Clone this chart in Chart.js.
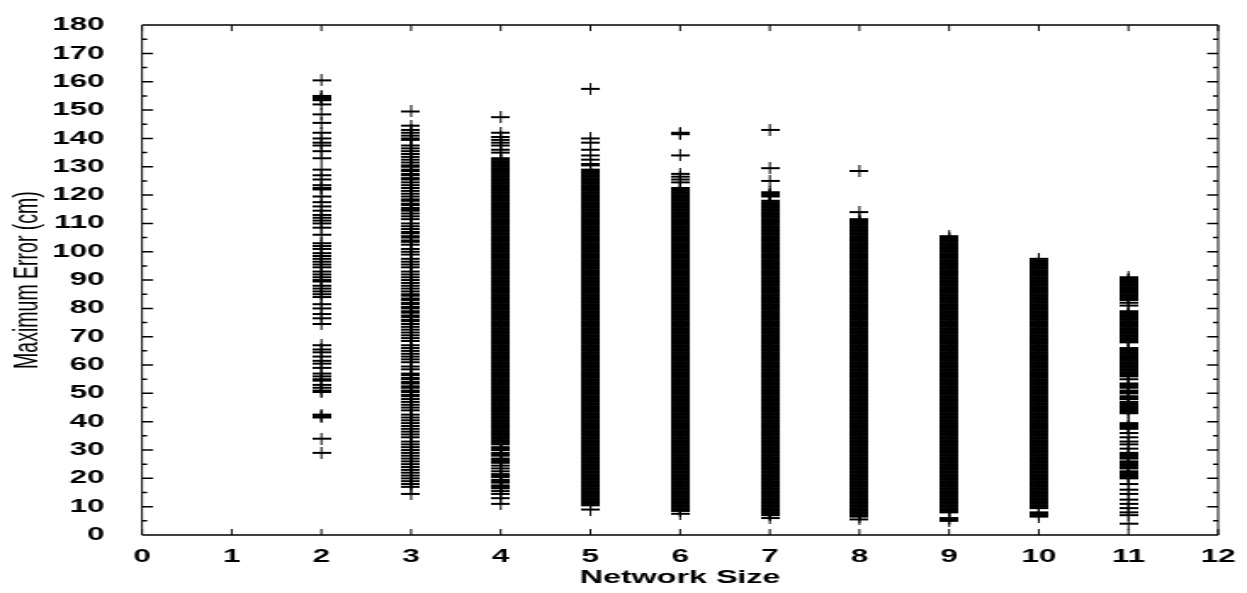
<!DOCTYPE html>
<html>
<head>
<meta charset="utf-8">
<title>Maximum Error vs Network Size</title>
<script src="https://cdn.jsdelivr.net/npm/chart.js@4/dist/chart.umd.min.js"></script>
<style>
  html, body { margin: 0; padding: 0; background: #fff; }
  #graph { display: block; }
</style>
</head>
<body>
<!-- drawn at a narrow width and stretched sideways, like the printed plot -->
<canvas id="graph" width="734" height="593" style="width:1247px;height:593px"></canvas>
<script>
const networkSizes = [2, 3, 4, 5, 6, 7, 8, 9, 10, 11];

const xTickValues = [0, 1, 2, 3, 4, 5, 6, 7, 8, 9, 10, 11, 12];
const yMajorTicks = [0, 10, 20, 30, 40, 50, 60, 70, 80, 90, 100, 110, 120, 130, 140, 150, 160, 170, 180];
const yMinorTicks = [5, 15, 25, 35, 45, 55, 65, 75, 85, 95, 105, 115, 125, 135, 145, 155, 165, 175];

// maximum error (cm) of every run, one list per network size
const size2 = [160.5, 155, 154.5, 154, 153.5, 152, 148.5, 145.5, 142, 140, 138.5, 137.5, 135.5, 133,
  129, 127, 125.5, 123.5, 122.5, 122, 119.5, 117.5, 116, 114.5, 113, 112, 111, 110, 108.5, 106,
  103, 102, 101, 99.5, 98.5, 97.5, 96.5, 95.5, 94.5, 93, 92, 91, 90, 89.5, 88, 87, 86, 85, 84,
  81.5, 80, 78, 76.5, 74.5, 67, 65.5, 64.5, 63, 61.5, 60.5, 59, 57, 56, 55, 54.5, 53, 52, 51, 50.5,
  42.5, 42, 41.5, 34, 29];

const size3 = [149.5,
  144.5, 143, 142, 141, 140, 139.5, 137.5, 136.5, 135.5, 134.5, 133.5, 132.5, 131.5,
  130.5, 130, 129, 128.5, 127.5, 127, 126, 125.5, 124.5, 123.5, 122.5, 121.5, 120.5, 119.5,
  118.5, 118, 117, 116.5, 115.5, 115, 114.5, 113.5, 112.5, 111.5, 110, 109, 108,
  107, 106.5, 105.5, 105, 104, 103.5, 102.5, 101, 100, 99, 97.5, 96.5, 95.5, 94.5,
  93, 92, 91, 90, 89, 88, 87, 86, 85, 84.5, 83.5, 83, 82, 81.5, 80.5, 80, 79, 78.5, 77.5, 77, 76, 75.5, 74.5,
  73.5, 72.5, 71.5, 70.5, 69.5, 68.5, 67, 66, 65, 64, 63, 62, 61, 59.5, 58.5,
  57, 56.5, 55.5, 55, 54, 53.5, 52.5, 52, 51, 50.5, 49.5, 49,
  48, 47, 46, 45, 44, 42.5, 41.5, 40.5, 39.5, 38.5,
  37.5, 36.5, 35.5, 34.5, 33, 32, 31, 30, 29, 28, 27,
  26, 25, 24, 23, 22, 21, 20, 19, 18, 17, 14.5];

const size4 = [147.5, 142, 140.5, 139.5, 138.5, 137.5, 136, 135, 133,
  132.5, 132, 131.5, 131, 130.5, 130,
  129.5, 129, 128.5, 128, 127.5, 127, 126.5, 126, 125.5, 125, 124.5, 124, 123.5, 123, 122.5, 122, 121.5, 121, 120.5, 120,
  119.5, 119, 118.5, 118, 117.5, 117, 116.5, 116, 115.5, 115, 114.5, 114, 113.5, 113, 112.5, 112, 111.5, 111, 110.5, 110,
  109.5, 109, 108.5, 108, 107.5, 107, 106.5, 106, 105.5, 105, 104.5, 104, 103.5, 103, 102.5, 102, 101.5, 101, 100.5, 100,
  99.5, 99, 98.5, 98, 97.5, 97, 96.5, 96, 95.5, 95, 94.5, 94, 93.5, 93, 92.5, 92, 91.5, 91, 90.5, 90,
  89.5, 89, 88.5, 88, 87.5, 87, 86.5, 86, 85.5, 85, 84.5, 84, 83.5, 83, 82.5, 82, 81.5, 81, 80.5, 80,
  79.5, 79, 78.5, 78, 77.5, 77, 76.5, 76, 75.5, 75, 74.5, 74, 73.5, 73, 72.5, 72, 71.5, 71, 70.5, 70,
  69.5, 69, 68.5, 68, 67.5, 67, 66.5, 66, 65.5, 65, 64.5, 64, 63.5, 63, 62.5, 62, 61.5, 61, 60.5, 60,
  59.5, 59, 58.5, 58, 57.5, 57, 56.5, 56, 55.5, 55, 54.5, 54, 53.5, 53, 52.5, 52, 51.5, 51, 50.5, 50,
  49.5, 49, 48.5, 48, 47.5, 47, 46.5, 46, 45.5, 45, 44.5, 44, 43.5, 43, 42.5, 42, 41.5, 41, 40.5, 40,
  39.5, 39, 38.5, 38, 37.5, 37, 36.5, 36, 35.5, 35, 34.5, 34, 33.5, 33,
  32.5, 32, 31, 30.5, 30, 29, 28.5, 28, 27, 26.5, 26, 25.5, 24.5, 23.5, 22.5, 21.5, 21, 20.5,
  19.5, 19, 18.5, 17.5, 17, 16.5, 15.5, 14.5, 13, 11];

const size5 = [157.5, 140, 138.5, 136, 134, 132.5, 131, 130.5,
  129, 128.5, 128, 127.5, 127, 126.5, 126, 125.5, 125, 124.5, 124, 123.5, 123, 122.5, 122, 121.5, 121, 120.5, 120,
  119.5, 119, 118.5, 118, 117.5, 117, 116.5, 116, 115.5, 115, 114.5, 114, 113.5, 113, 112.5, 112, 111.5, 111, 110.5, 110,
  109.5, 109, 108.5, 108, 107.5, 107, 106.5, 106, 105.5, 105, 104.5, 104, 103.5, 103, 102.5, 102, 101.5, 101, 100.5, 100,
  99.5, 99, 98.5, 98, 97.5, 97, 96.5, 96, 95.5, 95, 94.5, 94, 93.5, 93, 92.5, 92, 91.5, 91, 90.5, 90,
  89.5, 89, 88.5, 88, 87.5, 87, 86.5, 86, 85.5, 85, 84.5, 84, 83.5, 83, 82.5, 82, 81.5, 81, 80.5, 80,
  79.5, 79, 78.5, 78, 77.5, 77, 76.5, 76, 75.5, 75, 74.5, 74, 73.5, 73, 72.5, 72, 71.5, 71, 70.5, 70,
  69.5, 69, 68.5, 68, 67.5, 67, 66.5, 66, 65.5, 65, 64.5, 64, 63.5, 63, 62.5, 62, 61.5, 61, 60.5, 60,
  59.5, 59, 58.5, 58, 57.5, 57, 56.5, 56, 55.5, 55, 54.5, 54, 53.5, 53, 52.5, 52, 51.5, 51, 50.5, 50,
  49.5, 49, 48.5, 48, 47.5, 47, 46.5, 46, 45.5, 45, 44.5, 44, 43.5, 43, 42.5, 42, 41.5, 41, 40.5, 40,
  39.5, 39, 38.5, 38, 37.5, 37, 36.5, 36, 35.5, 35, 34.5, 34, 33.5, 33, 32.5, 32, 31.5, 31, 30.5, 30,
  29.5, 29, 28.5, 28, 27.5, 27, 26.5, 26, 25.5, 25, 24.5, 24, 23.5, 23, 22.5, 22, 21.5, 21, 20.5, 20,
  19.5, 19, 18.5, 18, 17.5, 17, 16.5, 16, 15.5, 15, 14.5, 14, 13.5, 13, 12.5, 12, 11.5, 11, 10.5, 9];

const size6 = [142, 141.5, 134, 127.5, 126.5, 125.5, 124.5,
  122.5, 122, 121.5, 121, 120.5, 120,
  119.5, 119, 118.5, 118, 117.5, 117, 116.5, 116, 115.5, 115, 114.5, 114, 113.5, 113, 112.5, 112, 111.5, 111, 110.5, 110,
  109.5, 109, 108.5, 108, 107.5, 107, 106.5, 106, 105.5, 105, 104.5, 104, 103.5, 103, 102.5, 102, 101.5, 101, 100.5, 100,
  99.5, 99, 98.5, 98, 97.5, 97, 96.5, 96, 95.5, 95, 94.5, 94, 93.5, 93, 92.5, 92, 91.5, 91, 90.5, 90,
  89.5, 89, 88.5, 88, 87.5, 87, 86.5, 86, 85.5, 85, 84.5, 84, 83.5, 83, 82.5, 82, 81.5, 81, 80.5, 80,
  79.5, 79, 78.5, 78, 77.5, 77, 76.5, 76, 75.5, 75, 74.5, 74, 73.5, 73, 72.5, 72, 71.5, 71, 70.5, 70,
  69.5, 69, 68.5, 68, 67.5, 67, 66.5, 66, 65.5, 65, 64.5, 64, 63.5, 63, 62.5, 62, 61.5, 61, 60.5, 60,
  59.5, 59, 58.5, 58, 57.5, 57, 56.5, 56, 55.5, 55, 54.5, 54, 53.5, 53, 52.5, 52, 51.5, 51, 50.5, 50,
  49.5, 49, 48.5, 48, 47.5, 47, 46.5, 46, 45.5, 45, 44.5, 44, 43.5, 43, 42.5, 42, 41.5, 41, 40.5, 40,
  39.5, 39, 38.5, 38, 37.5, 37, 36.5, 36, 35.5, 35, 34.5, 34, 33.5, 33, 32.5, 32, 31.5, 31, 30.5, 30,
  29.5, 29, 28.5, 28, 27.5, 27, 26.5, 26, 25.5, 25, 24.5, 24, 23.5, 23, 22.5, 22, 21.5, 21, 20.5, 20,
  19.5, 19, 18.5, 18, 17.5, 17, 16.5, 16, 15.5, 15, 14.5, 14, 13.5, 13, 12.5, 12, 11.5, 11, 10.5, 10,
  9.5, 9, 8.5, 7.5];

const size7 = [143, 129.5, 125, 121, 120.5, 120, 119.5,
  118, 117.5, 117, 116.5, 116, 115.5, 115, 114.5, 114, 113.5, 113, 112.5, 112, 111.5, 111, 110.5, 110,
  109.5, 109, 108.5, 108, 107.5, 107, 106.5, 106, 105.5, 105, 104.5, 104, 103.5, 103, 102.5, 102, 101.5, 101, 100.5, 100,
  99.5, 99, 98.5, 98, 97.5, 97, 96.5, 96, 95.5, 95, 94.5, 94, 93.5, 93, 92.5, 92, 91.5, 91, 90.5, 90,
  89.5, 89, 88.5, 88, 87.5, 87, 86.5, 86, 85.5, 85, 84.5, 84, 83.5, 83, 82.5, 82, 81.5, 81, 80.5, 80,
  79.5, 79, 78.5, 78, 77.5, 77, 76.5, 76, 75.5, 75, 74.5, 74, 73.5, 73, 72.5, 72, 71.5, 71, 70.5, 70,
  69.5, 69, 68.5, 68, 67.5, 67, 66.5, 66, 65.5, 65, 64.5, 64, 63.5, 63, 62.5, 62, 61.5, 61, 60.5, 60,
  59.5, 59, 58.5, 58, 57.5, 57, 56.5, 56, 55.5, 55, 54.5, 54, 53.5, 53, 52.5, 52, 51.5, 51, 50.5, 50,
  49.5, 49, 48.5, 48, 47.5, 47, 46.5, 46, 45.5, 45, 44.5, 44, 43.5, 43, 42.5, 42, 41.5, 41, 40.5, 40,
  39.5, 39, 38.5, 38, 37.5, 37, 36.5, 36, 35.5, 35, 34.5, 34, 33.5, 33, 32.5, 32, 31.5, 31, 30.5, 30,
  29.5, 29, 28.5, 28, 27.5, 27, 26.5, 26, 25.5, 25, 24.5, 24, 23.5, 23, 22.5, 22, 21.5, 21, 20.5, 20,
  19.5, 19, 18.5, 18, 17.5, 17, 16.5, 16, 15.5, 15, 14.5, 14, 13.5, 13, 12.5, 12, 11.5, 11, 10.5, 10,
  9.5, 9, 8.5, 8, 7.5, 7, 6];

const size8 = [128.5, 114,
  111.5, 111, 110.5, 110,
  109.5, 109, 108.5, 108, 107.5, 107, 106.5, 106, 105.5, 105, 104.5, 104, 103.5, 103, 102.5, 102, 101.5, 101, 100.5, 100,
  99.5, 99, 98.5, 98, 97.5, 97, 96.5, 96, 95.5, 95, 94.5, 94, 93.5, 93, 92.5, 92, 91.5, 91, 90.5, 90,
  89.5, 89, 88.5, 88, 87.5, 87, 86.5, 86, 85.5, 85, 84.5, 84, 83.5, 83, 82.5, 82, 81.5, 81, 80.5, 80,
  79.5, 79, 78.5, 78, 77.5, 77, 76.5, 76, 75.5, 75, 74.5, 74, 73.5, 73, 72.5, 72, 71.5, 71, 70.5, 70,
  69.5, 69, 68.5, 68, 67.5, 67, 66.5, 66, 65.5, 65, 64.5, 64, 63.5, 63, 62.5, 62, 61.5, 61, 60.5, 60,
  59.5, 59, 58.5, 58, 57.5, 57, 56.5, 56, 55.5, 55, 54.5, 54, 53.5, 53, 52.5, 52, 51.5, 51, 50.5, 50,
  49.5, 49, 48.5, 48, 47.5, 47, 46.5, 46, 45.5, 45, 44.5, 44, 43.5, 43, 42.5, 42, 41.5, 41, 40.5, 40,
  39.5, 39, 38.5, 38, 37.5, 37, 36.5, 36, 35.5, 35, 34.5, 34, 33.5, 33, 32.5, 32, 31.5, 31, 30.5, 30,
  29.5, 29, 28.5, 28, 27.5, 27, 26.5, 26, 25.5, 25, 24.5, 24, 23.5, 23, 22.5, 22, 21.5, 21, 20.5, 20,
  19.5, 19, 18.5, 18, 17.5, 17, 16.5, 16, 15.5, 15, 14.5, 14, 13.5, 13, 12.5, 12, 11.5, 11, 10.5, 10,
  9.5, 9, 8.5, 8, 7.5, 7, 6.5, 5.5];

const size9 = [105.5, 105, 104.5, 104, 103.5, 103, 102.5, 102, 101.5, 101, 100.5, 100,
  99.5, 99, 98.5, 98, 97.5, 97, 96.5, 96, 95.5, 95, 94.5, 94, 93.5, 93, 92.5, 92, 91.5, 91, 90.5, 90,
  89.5, 89, 88.5, 88, 87.5, 87, 86.5, 86, 85.5, 85, 84.5, 84, 83.5, 83, 82.5, 82, 81.5, 81, 80.5, 80,
  79.5, 79, 78.5, 78, 77.5, 77, 76.5, 76, 75.5, 75, 74.5, 74, 73.5, 73, 72.5, 72, 71.5, 71, 70.5, 70,
  69.5, 69, 68.5, 68, 67.5, 67, 66.5, 66, 65.5, 65, 64.5, 64, 63.5, 63, 62.5, 62, 61.5, 61, 60.5, 60,
  59.5, 59, 58.5, 58, 57.5, 57, 56.5, 56, 55.5, 55, 54.5, 54, 53.5, 53, 52.5, 52, 51.5, 51, 50.5, 50,
  49.5, 49, 48.5, 48, 47.5, 47, 46.5, 46, 45.5, 45, 44.5, 44, 43.5, 43, 42.5, 42, 41.5, 41, 40.5, 40,
  39.5, 39, 38.5, 38, 37.5, 37, 36.5, 36, 35.5, 35, 34.5, 34, 33.5, 33, 32.5, 32, 31.5, 31, 30.5, 30,
  29.5, 29, 28.5, 28, 27.5, 27, 26.5, 26, 25.5, 25, 24.5, 24, 23.5, 23, 22.5, 22, 21.5, 21, 20.5, 20,
  19.5, 19, 18.5, 18, 17.5, 17, 16.5, 16, 15.5, 15, 14.5, 14, 13.5, 13, 12.5, 12, 11.5, 11, 10.5, 10,
  9.5, 9, 8.5, 8, 6, 5.5, 5];

const size10 = [97.5, 97, 96.5, 96, 95.5, 95, 94.5, 94, 93.5, 93, 92.5, 92, 91.5, 91, 90.5, 90,
  89.5, 89, 88.5, 88, 87.5, 87, 86.5, 86, 85.5, 85, 84.5, 84, 83.5, 83, 82.5, 82, 81.5, 81, 80.5, 80,
  79.5, 79, 78.5, 78, 77.5, 77, 76.5, 76, 75.5, 75, 74.5, 74, 73.5, 73, 72.5, 72, 71.5, 71, 70.5, 70,
  69.5, 69, 68.5, 68, 67.5, 67, 66.5, 66, 65.5, 65, 64.5, 64, 63.5, 63, 62.5, 62, 61.5, 61, 60.5, 60,
  59.5, 59, 58.5, 58, 57.5, 57, 56.5, 56, 55.5, 55, 54.5, 54, 53.5, 53, 52.5, 52, 51.5, 51, 50.5, 50,
  49.5, 49, 48.5, 48, 47.5, 47, 46.5, 46, 45.5, 45, 44.5, 44, 43.5, 43, 42.5, 42, 41.5, 41, 40.5, 40,
  39.5, 39, 38.5, 38, 37.5, 37, 36.5, 36, 35.5, 35, 34.5, 34, 33.5, 33, 32.5, 32, 31.5, 31, 30.5, 30,
  29.5, 29, 28.5, 28, 27.5, 27, 26.5, 26, 25.5, 25, 24.5, 24, 23.5, 23, 22.5, 22, 21.5, 21, 20.5, 20,
  19.5, 19, 18.5, 18, 17.5, 17, 16.5, 16, 15.5, 15, 14.5, 14, 13.5, 13, 12.5, 12, 11.5, 11, 10.5, 10,
  9.5, 8, 7.5, 7, 6.5];

const size11 = [91, 90.5, 90, 89.5, 89, 88.5, 88, 87.5, 87, 86.5, 86, 85.5, 85, 84.5, 84, 83.5, 83,
  82, 81,
  79, 78.5, 78, 77.5, 77, 76.5, 76, 75.5, 75, 74.5, 74, 73.5, 73, 72.5, 72, 71.5, 71, 70.5, 70, 69.5, 69, 68.5, 68,
  66, 65.5, 65, 64.5, 64, 63.5, 63, 62.5, 62, 61.5, 61, 60.5, 60, 59.5, 59, 58.5, 58, 57.5, 57, 56.5, 56,
  55,
  53.5, 53, 52.5, 52, 51, 50.5, 50, 49, 48.5, 48, 47, 46.5, 46, 45.5, 45, 44.5, 44, 43.5, 43,
  39.5, 39, 38.5, 38, 37.5,
  36, 34.5, 33, 32, 30.5,
  29, 28.5, 28, 27.5, 27, 26, 25.5, 25, 24.5, 24, 23.5, 22.5, 22, 21.5, 21, 20.5, 20,
  18, 16, 14.5, 12.5, 11, 9.5, 8, 7,
  4];

const errorsBySize = [size2, size3, size4, size5, size6, size7, size8, size9, size10, size11];

// gnuplot-style "+" marker
const cross = document.createElement('canvas');
cross.width = 11;
cross.height = 12;
const cg = cross.getContext('2d');
cg.fillStyle = '#000';
cg.fillRect(0, 5, 11, 2);
cg.fillRect(5, 0, 1, 12);

// box around the plot with inward ticks on all four sides
const frameTicks = {
  id: 'frameTicks',
  beforeDatasetsDraw(chart) {
    const {ctx, chartArea: a, scales: {x, y}} = chart;
    ctx.save();
    ctx.strokeStyle = '#000';

    ctx.lineWidth = 1;
    ctx.beginPath();
    ctx.moveTo(a.left, a.top); ctx.lineTo(a.left, a.bottom);
    ctx.moveTo(a.right, a.top); ctx.lineTo(a.right, a.bottom);
    xTickValues.forEach(v => {
      const px = x.getPixelForValue(v);
      ctx.moveTo(px, a.bottom); ctx.lineTo(px, a.bottom - 6);
      ctx.moveTo(px, a.top); ctx.lineTo(px, a.top + 6);
    });
    ctx.stroke();

    ctx.lineWidth = 1.5;
    ctx.beginPath();
    ctx.moveTo(a.left, a.top); ctx.lineTo(a.right, a.top);
    ctx.moveTo(a.left, a.bottom); ctx.lineTo(a.right, a.bottom);
    yMajorTicks.forEach(v => {
      const py = y.getPixelForValue(v);
      ctx.moveTo(a.left, py); ctx.lineTo(a.left + 6.5, py);
      ctx.moveTo(a.right, py); ctx.lineTo(a.right - 6.5, py);
    });
    yMinorTicks.forEach(v => {
      const py = y.getPixelForValue(v);
      ctx.moveTo(a.left, py); ctx.lineTo(a.left + 3, py);
      ctx.moveTo(a.right, py); ctx.lineTo(a.right - 3, py);
    });
    ctx.stroke();
    ctx.restore();
  }
};

Chart.defaults.font.family = "'Liberation Sans', Arial, Helvetica, sans-serif";
Chart.defaults.color = '#000';

const datasets = networkSizes.map((n, i) => ({
  label: 'N=' + n,
  data: errorsBySize[i].map(v => ({ x: n, y: v })),
  pointStyle: cross,
  pointRadius: 3,
  showLine: false
}));

new Chart(document.getElementById('graph'), {
  type: 'scatter',
  data: { datasets: datasets },
  options: {
    responsive: false,
    animation: false,
    events: [],
    layout: { padding: { left: 0, right: 17, top: 16, bottom: 0 } },
    plugins: { legend: { display: false }, tooltip: { enabled: false } },
    scales: {
      x: {
        type: 'linear',
        min: 0,
        max: 12,
        grid: { display: false },
        border: { display: false },
        ticks: { stepSize: 1, autoSkip: false, maxRotation: 0, padding: 3,
                  font: { size: 18.5, weight: 'bold' } },
        title: { display: true, text: 'Network Size',
                 font: { size: 19, weight: 'bold' }, padding: { top: 0, bottom: 4 } },
        afterFit: s => { s.height = 58; }
      },
      y: {
        min: 0,
        max: 180,
        grid: { display: false },
        border: { display: false },
        ticks: { stepSize: 10, autoSkip: false, padding: 14,
                 font: { size: 18.5, weight: 'bold' } },
        title: { display: true, text: 'Maximum Error (cm)',
                 font: { size: 19.5 }, padding: { top: 5, bottom: 0 } },
        afterFit: s => { s.width = 83.6; }
      }
    }
  },
  plugins: [frameTicks]
});
</script>
</body>
</html>
